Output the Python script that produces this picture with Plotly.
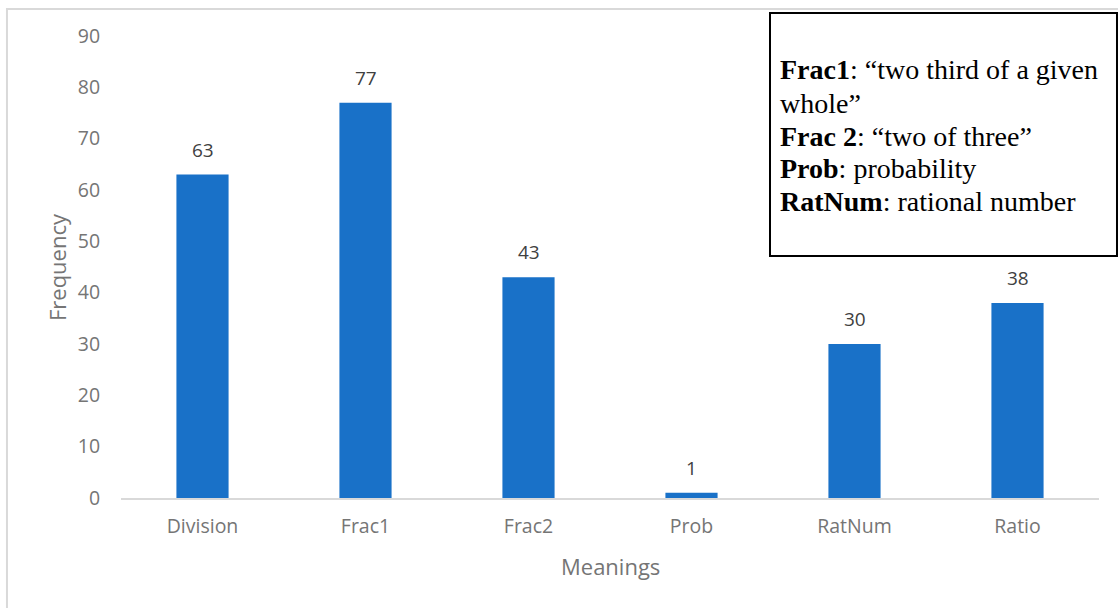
import plotly.graph_objects as go

categories = ["Division", "Frac1", "Frac2", "Prob", "RatNum", "Ratio"]
frequency = [63, 77, 43, 1, 30, 38]
y_ticks = [0, 10, 20, 30, 40, 50, 60, 70, 80, 90]

bar_color = "#1971C8"
tick_gray = "#757575"

fig = go.Figure()
fig.add_trace(go.Bar(
    x=categories, y=frequency,
    marker=dict(color=bar_color, line=dict(width=0)),
    cliponaxis=False,
))

# data labels
for c, v in zip(categories, frequency):
    fig.add_annotation(x=c, y=v, text=str(v), showarrow=False, yanchor="bottom",
                       yshift=10, font=dict(family="Open Sans", size=19, color="#404040"))

fig.update_layout(
    width=1118, height=608,
    margin=dict(l=121, r=19, t=36, b=110),
    paper_bgcolor="white", plot_bgcolor="white",
    bargap=0.68,
    showlegend=False,
    font=dict(family="Open Sans", color=tick_gray),
    xaxis=dict(
        showgrid=False, showline=True, linecolor="#d9d9d9", linewidth=2,
        ticks="outside", ticklen=10, tickcolor="rgba(0,0,0,0)",
        tickfont=dict(family="Open Sans", size=19.5, color=tick_gray),
    ),
    yaxis=dict(
        range=[0, 90], tickvals=y_ticks, showgrid=False, zeroline=False,
        showline=False, ticks="outside", ticklen=16, tickcolor="rgba(0,0,0,0)",
        tickfont=dict(family="Open Sans", size=19.5, color=tick_gray),
    ),
)

# axis titles
fig.add_annotation(text="Frequency", xref="paper", yref="paper", x=-0.0654, y=0.5,
                   xanchor="center", yanchor="middle",
                   textangle=-90, showarrow=False,
                   font=dict(family="Open Sans", size=22, color=tick_gray))
fig.add_annotation(text="Meanings", xref="paper", yref="paper", x=0.5, y=-0.147,
                   xanchor="center", yanchor="middle",
                   showarrow=False,
                   font=dict(family="Open Sans", size=22, color=tick_gray))

# outer chart border
fig.add_shape(type="rect", xref="paper", yref="paper", x0=-0.1166, x1=1.2, y0=-0.6, y1=1.0584,
              line=dict(color="#d9d9d9", width=2), layer="below")

# note box
fig.add_shape(type="rect", xref="paper", yref="paper", x0=0.6636, x1=1.0184, y0=0.5238, y1=1.0498,
              line=dict(color="black", width=2), fillcolor="white")
note_lines = [
    "<b>Frac1</b>: “two third of a given",
    "whole”",
    "<b>Frac 2</b>: “two of three”",
    "<b>Prob</b>: probability",
    "<b>RatNum</b>: rational number",
]
line_centers_px = [70, 103, 136, 169, 201.5]
for txt, yc in zip(note_lines, line_centers_px):
    fig.add_annotation(text=txt, xref="paper", yref="paper", x=0.6718, y=(498 - yc) / 462,
                       xanchor="left", yanchor="middle", align="left", showarrow=False,
                       font=dict(family="Liberation Serif", size=28, color="black"))

fig.write_html("out.html")
